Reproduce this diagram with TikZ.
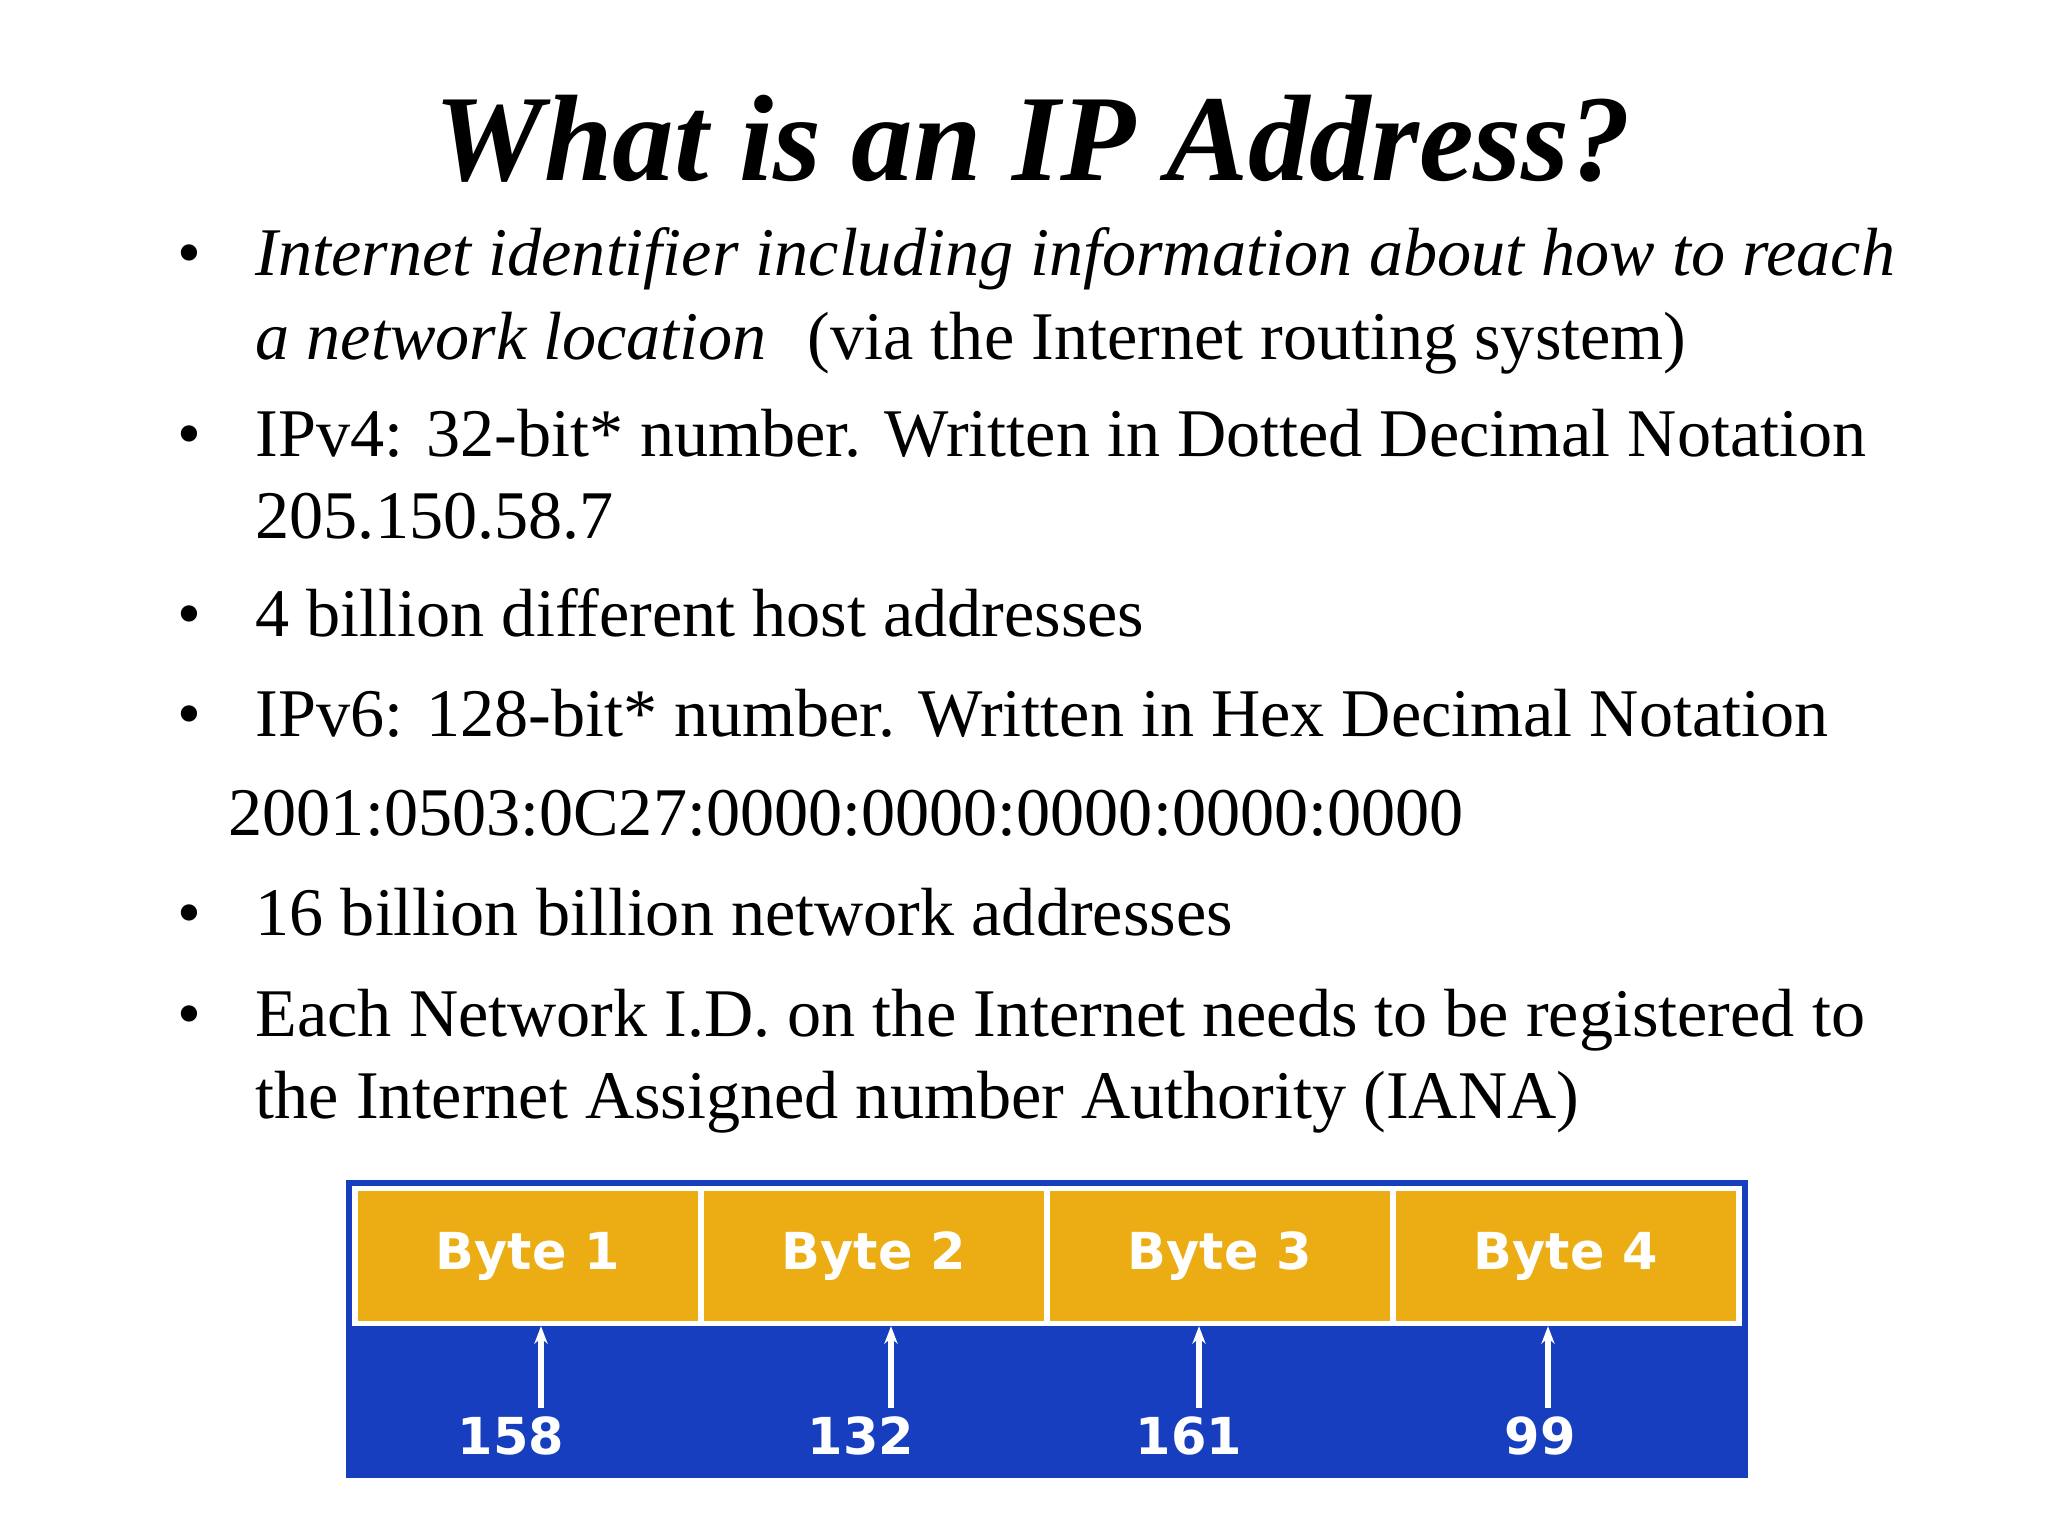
\documentclass[tikz,border=0pt]{standalone}
\usepackage{fontspec}
\usetikzlibrary{arrows.meta}
\setmainfont{Liberation Serif}
\newfontfamily\lblfont{DejaVu Sans}
\definecolor{byteor}{RGB}{236,172,20}
\definecolor{bgblue}{RGB}{22,62,190}
\tikzset{
 txt/.style={anchor=base west,inner sep=0pt,font=\fontsize{19.4}{23}\selectfont},
 bul/.style={anchor=base,inner sep=0pt,font=\fontsize{19.4}{23}\selectfont},
 cell/.style={draw=white,line width=1.5pt,fill=byteor,minimum height=1.35cm,minimum width=3.46cm,inner sep=0pt,font=\lblfont\bfseries\fontsize{14.5}{17}\selectfont,text=white},
 num/.style={anchor=center,inner sep=0pt,font=\lblfont\bfseries\fontsize{14.5}{17}\selectfont,text=white},
 arr/.style={white,line width=1.5pt,-{Stealth[length=5pt]}}
}
\begin{document}
\begin{tikzpicture}
\useasboundingbox (0,0) rectangle (20.48,-15.36);
\node[anchor=center,font=\fontsize{35}{40}\selectfont\bfseries\itshape] (title) at (10.33,-1.39) {What is an IP Address?};
\foreach \y/\n in {2.76/b1,4.57/b2,6.36/b3,7.36/b4,9.35/b5,10.37/b6}
  \node[bul] (\n) at (1.89,-\y) {•};
\node[txt] (t1) at (2.55,-2.76) {\itshape Internet identifier including information about how to reach};
\node[txt] (t2) at (2.55,-3.6) {\itshape a network location\upshape\hspace{0.6em}(via the Internet routing system)};
\node[txt] (t3) at (2.55,-4.57) {IPv4: 32-bit* number. Written in Dotted Decimal Notation};
\node[txt] (t4) at (2.55,-5.39) {205.150.58.7};
\node[txt] (t5) at (2.55,-6.36) {4 billion different host addresses};
\node[txt] (t6) at (2.55,-7.36) {IPv6: 128-bit* number. Written in Hex Decimal Notation};
\node[txt] (t7) at (2.28,-8.35) {2001:0503:0C27:0000:0000:0000:0000:0000};
\node[txt] (t8) at (2.55,-9.35) {16 billion billion network addresses};
\node[txt] (t9) at (2.55,-10.37) {Each Network I.D. on the Internet needs to be registered to};
\node[txt] (t10) at (2.55,-11.18) {the Internet Assigned number Authority (IANA)};
\fill[bgblue] (3.46,-11.80) rectangle (17.48,-14.78);
\node[cell] (c1) at (5.28,-12.56) {Byte 1};
\node[cell] (c2) at (8.74,-12.56) {Byte 2};
\node[cell] (c3) at (12.20,-12.56) {Byte 3};
\node[cell] (c4) at (15.66,-12.56) {Byte 4};
\node[num] (n1) at (5.11,-14.36) {158};
\node[num] (n2) at (8.61,-14.36) {132};
\node[num] (n3) at (11.89,-14.36) {161};
\node[num] (n4) at (15.40,-14.36) {99};
\coordinate (a1) at (5.41,-14.08);
\coordinate (a2) at (8.91,-14.08);
\coordinate (a3) at (11.99,-14.08);
\coordinate (a4) at (15.48,-14.08);
\draw[arr] (a1) -- (a1 |- c1.south);
\draw[arr] (a2) -- (a2 |- c2.south);
\draw[arr] (a3) -- (a3 |- c3.south);
\draw[arr] (a4) -- (a4 |- c4.south);
\end{tikzpicture}
\end{document}
